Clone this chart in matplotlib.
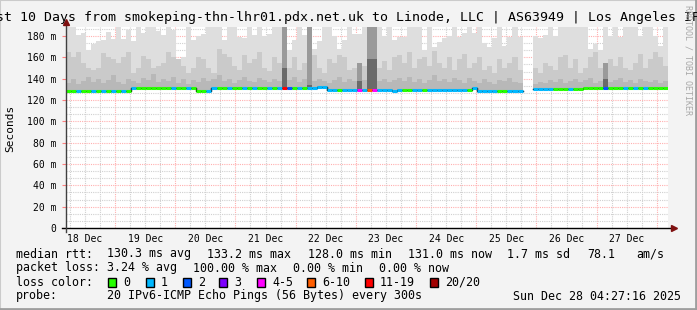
import numpy as np
import matplotlib.pyplot as plt
from matplotlib.patches import Rectangle

plt.rcParams['font.family'] = 'DejaVu Sans Mono'

title = "Last 10 Days from smokeping-thn-lhr01.pdx.net.uk to Linode, LLC | AS63949 | Los Angeles IPv6"
day_labels = ["18 Dec", "19 Dec", "20 Dec", "21 Dec", "22 Dec",
              "23 Dec", "24 Dec", "25 Dec", "26 Dec", "27 Dec"]
nan = np.nan

# 2-hour bins, starting Thu Dec 18 04:27:16
median_ms = [
    128.4, 128.4, 128.4, 128.4, 128.4, 128.4, 128.4, 128.4, 128.4, 128.4,
    128.4, 128.4, 128.4, 131.6, 131.6, 131.6, 131.6, 131.6, 131.6, 131.6,
    131.6, 131.6, 131.6, 131.6, 131.6, 131.6, 128.4, 128.4, 128.4, 131.6,
    131.6, 131.6, 131.6, 131.6, 131.6, 131.6, 131.6, 131.6, 131.6, 131.6,
    131.6, 131.6, 131.6, 131.6, 131.6, 131.6, 131.6, 131.6, 131.6, 131.6,
    132.5, 132.5, 129.0, 129.0, 129.0, 129.0, 129.0, 129.0, 129.0, 129.5,
    129.5, 129.5, 129.5, 129.5, 129.5, 128.7, 129.5, 129.5, 129.5, 129.5,
    129.5, 129.5, 129.5, 129.5, 129.5, 129.5, 129.5, 129.5, 129.5, 129.5,
    129.5, 131.0, 128.3, 128.3, 128.3, 128.3, 128.3, 128.3, 128.3, 128.3,
    128.3, nan, nan, 130.6, 130.6, 130.6, 130.6, 130.6, 130.6, 130.6,
    130.6, 130.6, 130.6, 131.6, 131.6, 131.6, 131.6, 131.6, 131.6, 131.6,
    131.6, 131.6, 131.6, 131.6, 131.6, 131.6, 130.8, 130.8, 130.8, 130.8,
]
loss_idx = [
    0, 0, 1, 0, 0, 1, 0, 1, 0, 1,
    0, 1, 0, 1, 0, 0, 0, 0, 0, 0,
    0, 1, 0, 0, 1, 0, 0, 0, 1, 1,
    0, 0, 1, 0, 0, 1, 0, 1, 0, 0,
    1, 0, 1, 6, 2, 0, 1, 0, 1, 1,
    1, 1, 1, 1, 0, 1, 1, 1, 4, 1,
    5, 4, 1, 1, 1, 1, 1, 0, 0, 1,
    1, 0, 1, 1, 1, 1, 1, 1, 1, 1,
    0, 1, 1, 1, 1, 1, 0, 0, 1, 1,
    1, -1, -1, 1, 1, 1, 1, 0, 0, 0,
    1, 0, 0, 0, 0, 0, 0, 2, 0, 0,
    0, 1, 0, 1, 0, 1, 0, 0, 0, 0,
]
ping_max = [
    190, 190, 181, 183, 167, 172, 175, 176, 184, 177,
    190, 177, 186, 175, 190, 183, 190, 190, 185, 181,
    190, 186, 156, 160, 190, 176, 180, 182, 190, 190,
    190, 176, 190, 190, 179, 178, 190, 181, 190, 180,
    182, 190, 190, 190, 167, 176, 190, 181, 190, 168,
    175, 190, 190, 180, 168, 176, 190, 182, 182, 190,
    190, 190, 190, 180, 190, 176, 179, 179, 190, 190,
    190, 167, 190, 170, 174, 178, 180, 190, 179, 183,
    190, 183, 190, 173, 170, 178, 190, 171, 179, 190,
    179, nan, nan, 180, 178, 181, 190, 180, 190, 190,
    190, 190, 190, 190, 168, 172, 167, 190, 180, 190,
    179, 190, 190, 190, 180, 190, 190, 180, 171, 190,
]
smoke_mid = [
    165, 160, 165, 155, 150, 148, 150, 164, 160, 158,
    155, 160, 165, 145, 150, 161, 158, 150, 152, 155,
    165, 160, 158, 152, 145, 150, 160, 158, 150, 145,
    168, 163, 160, 152, 148, 162, 155, 158, 165, 150,
    147, 160, 155, 165, 150, 160, 148, 155, 158, 162,
    150, 145, 158, 155, 162, 160, 148, 150, 146, 152,
    165, 160, 150, 157, 148, 160, 162, 155, 165, 150,
    158, 160, 152, 166, 155, 150, 160, 148, 158, 163,
    150, 155, 160, 148, 152, 145, 158, 150, 155, 160,
    148, nan, nan, 150, 145, 155, 152, 148, 160, 162,
    150, 158, 145, 150, 160, 165, 150, 148, 158, 152,
    160, 150, 148, 155, 163, 150, 158, 165, 160, 152,
]
smoke_low = [
    136, 140, 135, 138, 142, 137, 140, 136, 139, 143,
    137, 135, 140, 138, 136, 141, 139, 144, 137, 140,
    138, 142, 136, 140, 135, 139, 137, 141, 138, 140,
    143, 138, 140, 136, 139, 142, 138, 137, 141, 139,
    137, 140, 138, 145, 139, 142, 137, 140, 143, 138,
    140, 138, 136, 139, 142, 137, 140, 138, 141, 139,
    145, 143, 138, 140, 137, 139, 141, 138, 142, 137,
    140, 136, 139, 143, 138, 140, 137, 141, 139, 136,
    141, 138, 136, 140, 137, 135, 139, 138, 141, 137,
    136, nan, nan, 135, 137, 136, 139, 137, 140, 136,
    138, 140, 137, 139, 141, 136, 138, 140, 137, 139,
    141, 137, 139, 136, 140, 138, 137, 139, 136, 138,
]
# dark smoke columns (bins with loss)
spike_bins = [43, 48, 58, 60, 61, 107]
spike_top = [190, 190, 155, 190, 190, 155]
spike_core = [150, 134, 138, 158, 158, 140]

loss_labels = ["0", "1", "2", "3", "4-5", "6-10", "11-19", "20/20"]
loss_colors = ["#26ff00", "#00b8ff", "#0059ff", "#7e00ff",
               "#ff00ff", "#ff5e00", "#ff0000", "#a10000"]

W, H = 697, 310
fig = plt.figure(figsize=(W / 100, H / 100), dpi=100, facecolor="#f3f3f3")
ax = fig.add_axes([66 / W, 82 / H, 602 / W, 201 / H])
ax.set_facecolor("white")

med = np.array(median_ms)
x = np.arange(len(med)) * 2.0
ok = ~np.isnan(med)

# grid
first_noon = 7 + 32.73 / 60
for h in np.arange(first_noon - 6, 240, 6):
    midnight = abs(((h - first_noon) % 24) - 12) < 0.01
    ax.axvline(h, color="#ffb0b0" if midnight else "#d0d0d0",
               lw=0.8, ls=(0, (1, 1)), zorder=0)
for v in np.arange(20 / 3, 188, 20 / 3):
    major = abs(v / 20 - round(v / 20)) < 0.01
    ax.axhline(v, color="#ffb0b0" if major else "#d0d0d0",
               lw=0.8, ls=(0, (1, 1)), zorder=0)

# smoke
xs = x[ok]
m = med[ok]
ax.bar(xs, np.array(ping_max)[ok] - m, bottom=m, width=2, align="edge",
       color="#dedede", lw=0, zorder=1)
ax.bar(xs, np.array(smoke_mid)[ok] - m, bottom=m, width=2, align="edge",
       color="#cacaca", lw=0, zorder=1)
ax.bar(xs, np.array(smoke_low)[ok] - m, bottom=m, width=2, align="edge",
       color="#b8b8b8", lw=0, zorder=1)
sb = np.array(spike_bins)
ax.bar(x[sb], np.array(spike_top) - med[sb], bottom=med[sb], width=2,
       align="edge", color="#9a9a9a", lw=0, zorder=2)
ax.bar(x[sb], np.array(spike_core) - med[sb], bottom=med[sb], width=2,
       align="edge", color="#6a6a6a", lw=0, zorder=2)

# median line coloured by loss
xe = np.append(x, 240)
ax.step(xe, np.append(med, med[-1]), where="post", color="black", lw=1, zorder=3)
for i in range(len(med)):
    if loss_idx[i] < 0:
        continue
    ax.hlines(med[i], x[i], x[i] + 2, colors=loss_colors[loss_idx[i]],
              lw=2.2, zorder=4)

ax.set_xlim(0, 240)
ax.set_ylim(0, 188.4)
ax.set_xticks(first_noon + 24 * np.arange(10), day_labels)
ax.set_yticks(np.arange(0, 181, 20),
              ["0"] + ["%d m" % v for v in range(20, 181, 20)])
ax.tick_params(axis="x", length=0, labelsize=7, pad=4)
ax.tick_params(axis="y", length=3, color="#ff8080", labelsize=7, pad=4)
for s in ["top", "right", "bottom", "left"]:
    ax.spines[s].set_visible(False)

# axes with arrows
ax.plot([-4 / 2.508, 242], [0, 0], color="black", lw=1, clip_on=False, zorder=5)
ax.plot([0, 0], [-4 / 1.0667, 193], color="#404040", lw=1, clip_on=False, zorder=5)
ax.plot([242.5], [0], marker=">", color="#7f1010", ms=5, clip_on=False, zorder=6)
ax.plot([0], [193.5], marker="^", color="#7f1010", ms=5, clip_on=False, zorder=6)

fig.text(348.5 / W, 1 - 18 / H, title, ha="center", va="center", fontsize=9.5)
fig.text(10 / W, 1 - 128 / H, "Seconds", rotation=90, ha="center",
         va="center", fontsize=8)
fig.text(688 / W, 1 - 60 / H, "RRDTOOL / TOBI OETIKER", rotation=-90,
         ha="center", va="center", fontsize=6, color="#a8a8a8")

fs = 8.4
def put(px, py, s):
    fig.text(px / W, 1 - py / H, s, ha="left", va="center", fontsize=fs)

put(16, 254, "median rtt:")
put(107, 254, "130.3 ms avg")
put(207, 254, "133.2 ms max")
put(308, 254, "128.0 ms min")
put(408, 254, "131.0 ms now")
put(507, 254, "1.7 ms sd")
put(587, 254, "78.1")
put(636, 254, "am/s")

put(16, 268, "packet loss:")
put(107, 268, "3.24 % avg")
put(193, 268, "100.00 % max")
put(293, 268, "0.00 % min")
put(379, 268, "0.00 % now")

put(16, 282, "loss color:")
box_x = [108, 146, 183, 219, 257, 307, 365, 430]
for bx, lab, col in zip(box_x, loss_labels, loss_colors):
    fig.add_artist(Rectangle((bx / W, 1 - 287 / H), 8 / W, 9 / H,
                             transform=fig.transFigure, facecolor=col,
                             edgecolor="black", lw=1))
    put(bx + 15, 282, lab)

put(16, 296, "probe:")
put(107, 296, "20 IPv6-ICMP Echo Pings (56 Bytes) every 300s")
put(513, 296, "Sun Dec 28 04:27:16 2025")

# frame shading
fig.add_artist(Rectangle((0, 0), 1, 1, transform=fig.transFigure, fill=False,
                         edgecolor="#cbcbcb", lw=1.5))
fig.add_artist(plt.Line2D([1 - 1.5 / W, 1 - 1.5 / W], [0, 1], color="#9e9e9e",
                          lw=2, transform=fig.transFigure))
fig.add_artist(plt.Line2D([0, 1], [1.5 / H, 1.5 / H], color="#9e9e9e",
                          lw=2, transform=fig.transFigure))

fig.savefig("out.png", dpi=100, facecolor=fig.get_facecolor())
